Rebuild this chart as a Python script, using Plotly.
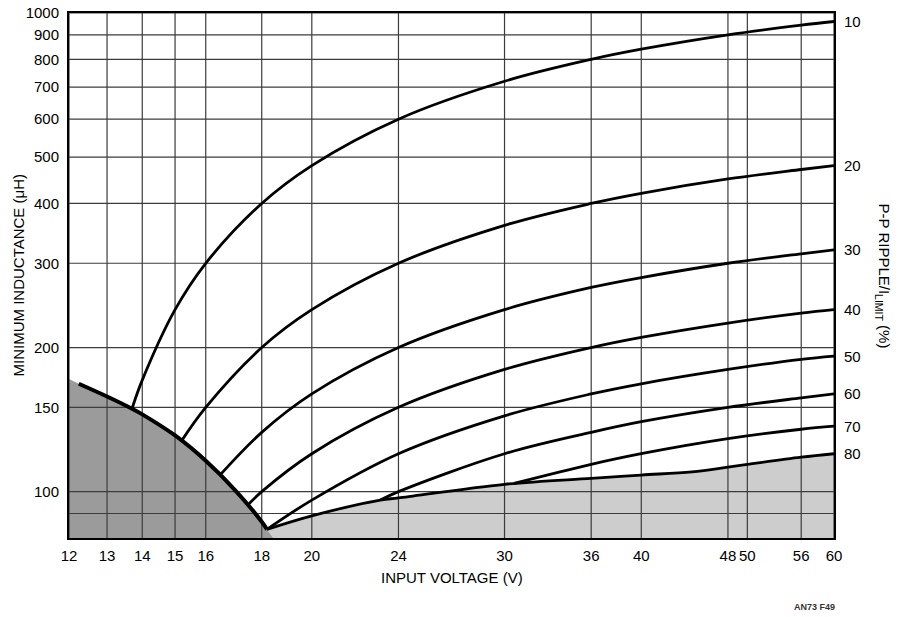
import numpy as np
import plotly.graph_objects as go

# axis ticks
x_ticks = [12, 13, 14, 15, 16, 18, 20, 24, 30, 36, 40, 48, 50, 56, 60]
y_ticks = [90, 100, 150, 200, 300, 400, 500, 600, 700, 800, 900, 1000]
y_ticktext = ["", "100", "150", "200", "300", "400", "500", "600", "700", "800", "900", "1000"]
x_min, x_max = 12, 60
y_min, y_max = 80, 1000

# ripple curves: input voltage (V) -> min inductance (uH)
v_10 = [13.7, 14, 15, 16, 18, 20, 24, 30, 36, 40, 48, 56, 60]
l_10 = [149, 171, 240, 300, 400, 480, 600, 720, 800, 840, 900, 943, 960]
v_20 = [15.2, 16, 18, 20, 24, 30, 36, 40, 48, 56, 60]
l_20 = [127.5, 150, 200, 240, 300, 360, 400, 420, 450, 471, 480]
v_30 = [16.5, 18, 20, 24, 30, 36, 40, 48, 56, 60]
l_30 = [108.5, 133, 160, 200, 240, 267, 280, 300, 314, 320]
v_40 = [17.5, 18, 20, 24, 30, 36, 40, 48, 56, 60]
l_40 = [94, 100, 120, 150, 180, 200, 210, 225, 236, 240]
v_50 = [18.2, 20, 24, 30, 36, 40, 48, 56, 60]
l_50 = [83.4, 96, 120, 144, 160, 168, 180, 189, 192]
v_60 = [23.1, 24, 30, 36, 40, 48, 56, 60]
l_60 = [96, 100, 120, 133, 140, 150, 157, 160]
v_70 = [30.6, 36, 40, 48, 56, 60]
l_70 = [104, 114, 120, 129, 135, 137]
v_80 = [44.5, 48, 50, 56, 60]
l_80 = [110, 112.5, 114, 118, 120]
ripple_labels = ["10", "20", "30", "40", "50", "60", "70", "80"]

# upper-left limit curve (thick) and lower limit line
v_limit = [12.25, 13, 13.7, 14, 15, 16, 17, 18, 18.2]
l_limit = [168, 158, 149, 145, 131, 116, 101, 86.5, 83.4]
v_lower = [18.2, 20, 23.1, 24, 30, 36, 40, 44.5]
l_lower = [83.4, 89, 96, 97, 103.6, 106.6, 108.3, 110]

# shaded regions
dark_x = [12] + v_limit + [18.45, 12]
dark_y = [172] + l_limit + [y_min, y_min]
light_x = v_lower + v_80[1:] + [x_max, 18.45]
light_y = l_lower + l_80[1:] + [y_min, y_min]

FONT = "Liberation Sans, Arial, sans-serif"
FS = 15

fig = go.Figure()

fig.add_scatter(x=dark_x, y=dark_y, fill="toself", fillcolor="#9b9b9b",
                mode="lines", line=dict(width=0), hoverinfo="skip")
fig.add_scatter(x=light_x, y=light_y, fill="toself", fillcolor="#cdcdcd",
                mode="lines", line=dict(width=0), hoverinfo="skip")

# grid drawn as traces so it sits on top of the shading
gx, gy = [], []
for v in x_ticks:
    gx += [v, v, None]
    gy += [y_min, y_max, None]
for v in y_ticks:
    gx += [x_min, x_max, None]
    gy += [v, v, None]
fig.add_scatter(x=gx, y=gy, mode="lines", line=dict(color="#3c3c3c", width=1.2),
                hoverinfo="skip")

curves = [(v_10, l_10), (v_20, l_20), (v_30, l_30), (v_40, l_40),
          (v_50, l_50), (v_60, l_60), (v_70, l_70)]
for xs, ys in curves:
    fig.add_scatter(x=xs, y=ys, mode="lines", line=dict(color="black", width=2.8),
                    line_shape="spline")
fig.add_scatter(x=v_lower + v_80[1:], y=l_lower + l_80[1:], mode="lines",
                line=dict(color="black", width=2.8), line_shape="spline")
fig.add_scatter(x=v_limit, y=l_limit, mode="lines",
                line=dict(color="black", width=4), line_shape="spline")

# ripple % labels at the right end of each curve
ends = [l_10[-1], l_20[-1], l_30[-1], l_40[-1], l_50[-1], l_60[-1], l_70[-1], l_80[-1]]
for lab, yv in zip(ripple_labels, ends):
    fig.add_annotation(x=1, xref="paper", xanchor="left", xshift=8,
                       y=np.log10(yv), yref="y", yanchor="middle",
                       text=lab, showarrow=False, font=dict(size=FS, color="black"))

fig.add_annotation(x=0, xref="paper", xshift=-51, y=0.5, yref="paper",
                   text="MINIMUM INDUCTANCE (μH)", textangle=-90, showarrow=False,
                   xanchor="center", yanchor="middle", font=dict(size=FS, color="black"))
fig.add_annotation(x=1, xref="paper", xshift=49, y=0.5, yref="paper",
                   text="P-P RIPPLE/I<sub>LIMIT</sub> (%)", textangle=90, showarrow=False,
                   xanchor="center", yanchor="middle", font=dict(size=FS, color="black"))
fig.add_annotation(x=0.5, xref="paper", y=0, yref="paper", yshift=-39,
                   text="INPUT VOLTAGE (V)", showarrow=False,
                   xanchor="center", yanchor="middle", font=dict(size=FS, color="black"))
fig.add_annotation(x=1, xref="paper", xshift=3, y=0, yref="paper", yshift=-69,
                   text="<b>AN73 F49</b>", showarrow=False,
                   xanchor="right", yanchor="middle", font=dict(size=9, color="#333"))

fig.update_xaxes(type="log", range=[np.log10(x_min), np.log10(x_max)],
                 tickvals=x_ticks, ticktext=[str(v) for v in x_ticks], tickangle=0,
                 showgrid=False, zeroline=False, showline=True, linecolor="black",
                 linewidth=2, mirror=True, ticks="outside", ticklen=3, automargin=False,
                 tickcolor="rgba(0,0,0,0)", tickfont=dict(size=FS, color="black"))
fig.update_yaxes(type="log", range=[np.log10(y_min), np.log10(y_max)],
                 tickvals=y_ticks, ticktext=y_ticktext, automargin=False,
                 showgrid=False, zeroline=False, showline=True, linecolor="black",
                 linewidth=2, mirror=True, ticks="outside", ticklen=5,
                 tickcolor="rgba(0,0,0,0)", tickfont=dict(size=FS, color="black"))

fig.update_layout(width=900, height=617, showlegend=False,
                  margin=dict(l=69, r=66, t=13, b=79),
                  paper_bgcolor="white", plot_bgcolor="white",
                  font=dict(family=FONT, color="black"))

# page body margin would shift the figure inside the 900x617 window
fig.write_html("out.html", config={"displayModeBar": False},
               post_script="document.body.style.margin='0';")
